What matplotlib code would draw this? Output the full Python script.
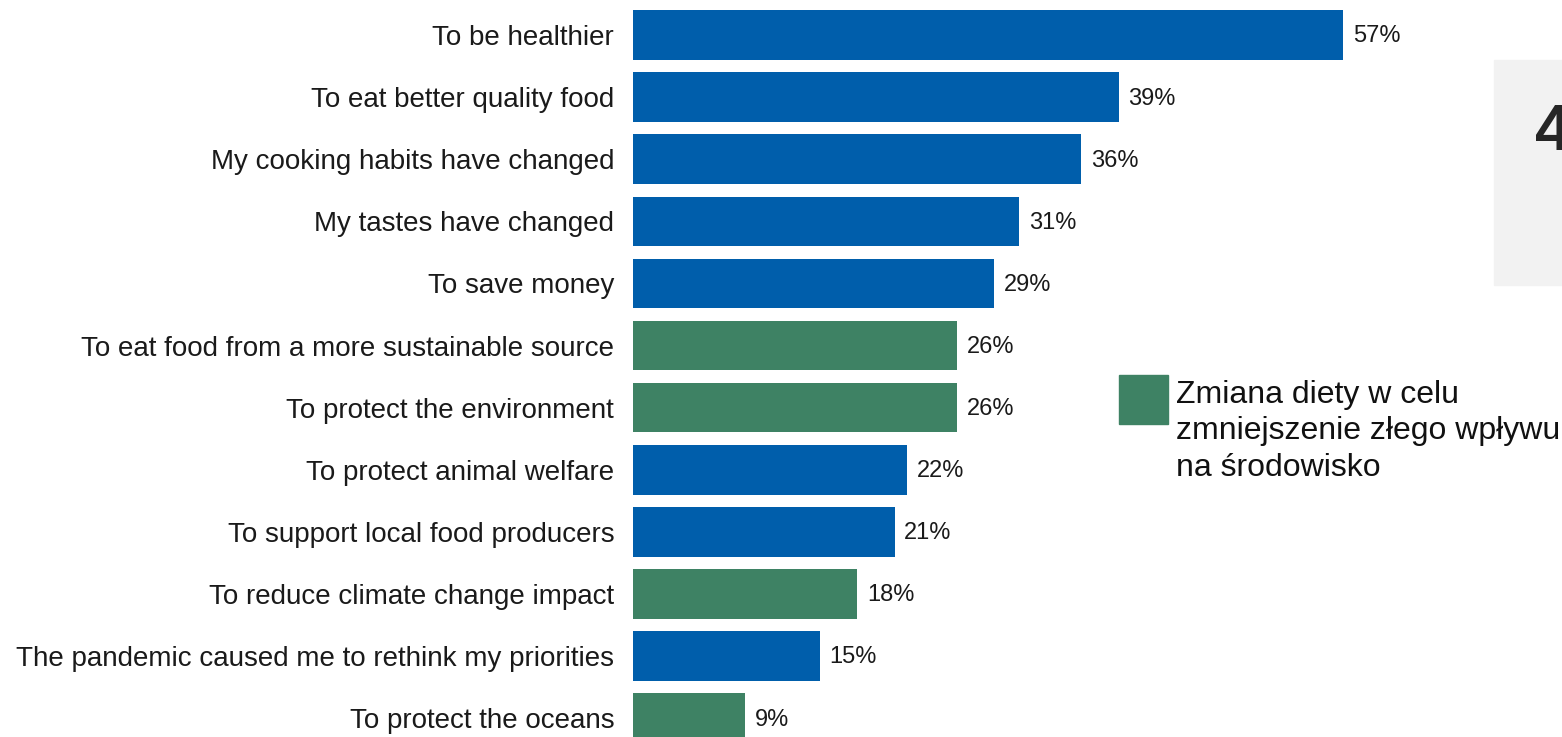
import matplotlib.pyplot as plt
from matplotlib.patches import Rectangle

plt.rcParams['font.family'] = ['Liberation Sans', 'DejaVu Sans']

reasons = ["To be healthier", "To eat better quality food", "My cooking habits have changed",
           "My tastes have changed", "To save money", "To eat food from a more sustainable source",
           "To protect the environment", "To protect animal welfare", "To support local food producers",
           "To reduce climate change impact", "The pandemic caused me to rethink my priorities",
           "To protect the oceans"]
shares = [57, 39, 36, 31, 29, 26, 26, 22, 21, 18, 15, 9]
# True where the reason is about lowering environmental impact
eco = [False, False, False, False, False, True, True, False, False, True, False, True]

legend_lines = ["Zmiana diety w celu", "zmniejszenie złego wpływu", "na środowisko"]

blue = "#005EAB"
green = "#3E8264"

W, H = 1562, 737
fig = plt.figure(figsize=(W / 100, H / 100), dpi=100)
ax = fig.add_axes([633 / W, 0, 747.4 / W, 1 - 4 / H])

colors = [green if e else blue for e in eco]
y = list(range(len(reasons)))
bars = ax.barh(y, shares, height=0.8, color=colors)
for b, v in zip(bars, shares):
    ax.annotate(f"{v}%", (b.get_width(), b.get_y() + b.get_height() / 2),
                xytext=(7, -1), textcoords="offset points", va="center", ha="left",
                fontsize=17, color="#1a1a1a")

ax.set_xlim(0, 60)
ax.set_ylim(11.304, -0.5)
ax.set_yticks(y)
ax.set_yticklabels(reasons, fontsize=20, color="#1a1a1a")
ax.tick_params(axis="y", length=0, pad=13.5)
ax.set_xticks([])
for s in ax.spines.values():
    s.set_visible(False)

# grey side panel with a large number, partly off the edge
fig.patches.append(Rectangle((1494 / W, 1 - 285 / H), 100 / W, 225 / H,
                             transform=fig.transFigure, color="#f2f2f2", zorder=0))
fig.text(1535 / W, 1 - 150 / H, "4", fontsize=47, fontweight="bold", color="#262626",
         ha="left", va="baseline")

# legend for the green bars
fig.patches.append(Rectangle((1119 / W, 1 - 424 / H), 49 / W, 49 / H,
                             transform=fig.transFigure, color=green))
for i, line in enumerate(legend_lines):
    fig.text(1176 / W, 1 - (403 + 36.5 * i) / H, line, fontsize=23, color="#111111",
             ha="left", va="baseline")

fig.savefig("out.png", dpi=100)
